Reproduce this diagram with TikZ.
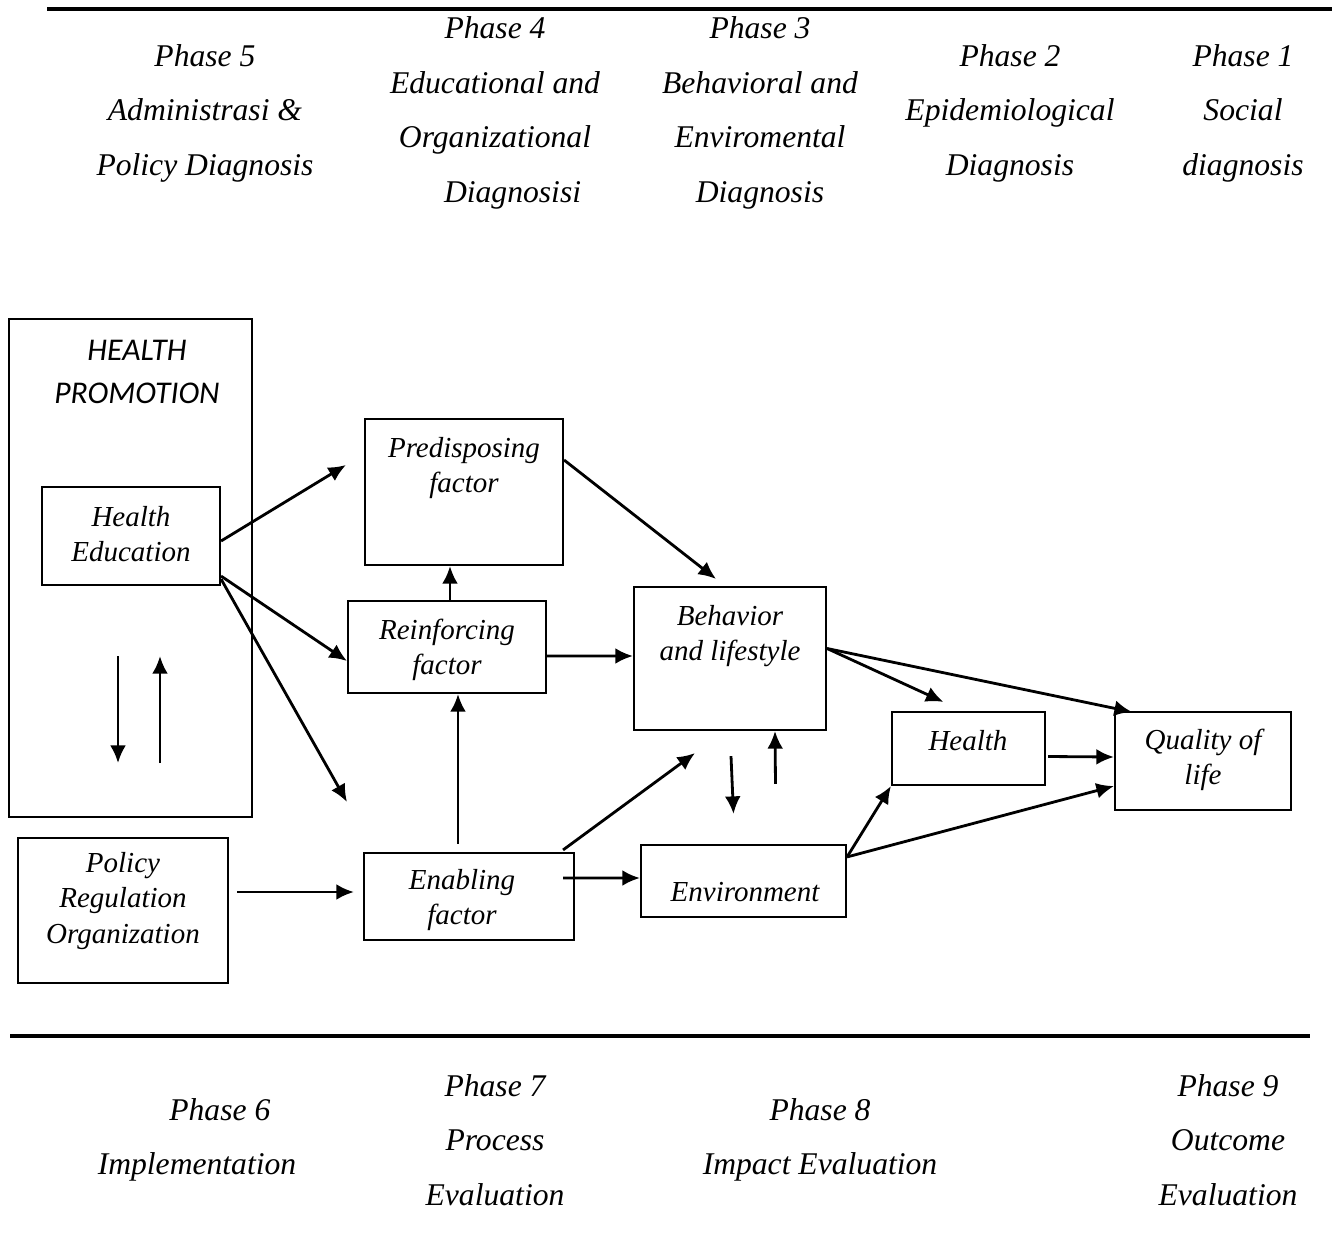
\documentclass[tikz,border=0pt]{standalone}
\usepackage{fontspec}
\setmainfont{Liberation Serif}
\newfontfamily\calibrifont{Carlito}
\usetikzlibrary{arrows.meta, calc, fit, positioning}

\begin{document}
\begin{tikzpicture}[
    x=0.02cm, y=-0.02cm,
    box/.style={rectangle, draw=black, line width=1.2pt, inner sep=0pt},
    lbl/.style={align=center, font=\fontsize{16.5}{20}\selectfont\itshape, inner sep=0pt},
    phase/.style={align=center, font=\fontsize{18}{31}\selectfont\itshape, inner sep=0pt},
    arr/.style={-{Latex[length=10pt,width=9pt]}, line width=1.6pt},
    rule/.style={line width=2.2pt},
]
\useasboundingbox (0,0) rectangle (1332,1254);

% Rules
\draw[rule] (47,9) -- (1332,9);
\draw[rule] (10,1036) -- (1310,1036);

% Diagnosis phases
\node[phase] (ph5) at (205,113) {Phase 5\\Administrasi \&\\Policy Diagnosis};
\node[phase] (ph4) at (495,113) {Phase 4\\Educational and\\Organizational\\\hspace*{20pt}Diagnosisi};
\node[phase] (ph3) at (760,113) {Phase 3\\Behavioral and\\Enviromental\\Diagnosis};
\node[phase] (ph2) at (1010,113) {Phase 2\\Epidemiological\\Diagnosis};
\node[phase] (ph1) at (1243,113) {Phase 1\\Social\\diagnosis};

% Evaluation phases
\node[phase] (ph6) at (197,1140) {\hspace*{26pt}Phase 6\\Implementation};
\node[phase] (ph7) at (495,1140) {Phase 7\\Process\\Evaluation};
\node[phase] (ph8) at (820,1140) {Phase 8\\Impact Evaluation};
\node[phase] (ph9) at (1228,1140) {Phase 9\\Outcome\\Evaluation};

% Health promotion
\node[box, fit={(9,319) (252,817)}] (hp) {};
\node[align=center, inner sep=0pt, font=\fontsize{18}{24}\selectfont\calibrifont\itshape] (hptxt) at (137,372) {HEALTH\\PROMOTION};
\node[box, fit={(42,487) (220,585)}] (he) {};
\node[lbl] (hetxt) at (131,534) {Health\\Education};
\node[box, fit={(18,838) (228,983)}] (pol) {};
\node[lbl] (poltxt) at (123,901) {Policy\\Regulation\\Organization};

% Factors
\node[box, fit={(365,419) (563,565)}] (pre) {};
\node[lbl] (pretxt) at (464,468) {Predisposing\\factor};
\node[box, fit={(348,601) (546,693)}] (rei) {};
\node[lbl] (reitxt) at (447,650) {Reinforcing\\factor};
\node[box, fit={(364,853) (574,940)}] (ena) {};
\node[lbl] (enatxt) at (462,900) {Enabling\\factor};

% Outcomes
\node[box, fit={(634,587) (826,730)}] (beh) {};
\node[lbl] (behtxt) at (730,636) {Behavior\\and lifestyle};
\node[box, fit={(641,845) (846,917)}] (env) {};
\node[lbl] (envtxt) at (745,892) {Environment};
\node[box, fit={(892,712) (1045,785)}] (hea) {};
\node[lbl] (heatxt) at (968,741) {Health};
\node[box, fit={(1115,712) (1291,810)}] (qol) {};
\node[lbl] (qoltxt) at (1203,760) {Quality of\\life};

% Arrows inside health promotion
\draw[arr] ($(hp.south)+(-12.5,-162)$) -- ($(hp.south)+(-12.5,-55)$);
\draw[arr] ($(hp.south)+(29.5,-55)$) -- ($(hp.south)+(29.5,-162)$);

% Arrows from health education
\draw[arr] ($(he.east)+(0,5)$) -- ($(pre.west)+(-18,-27)$);
\draw[arr] ($(he.south east)+(0,-10)$) -- ($(rei.west)+(0,14)$);
\draw[arr] ($(he.south east)+(0,-7)$) -- ($(ena.north west)+(-16,-50)$);
\draw[arr] ($(pol.east)+(8,-18.5)$) -- ($(ena.west)+(-9,-4.5)$);

% Arrows between factors
\draw[arr] ($(rei.north)+(3,0)$) -- ($(pre.south)+(-14,0)$);
\draw[arr] ($(ena.north)+(-11,-8)$) -- ($(rei.south)+(11,0)$);
\draw[arr] ($(pre.east)+(0,-32)$) -- ($(beh.north)+(-14,-7)$);
\draw[arr] ($(rei.east)+(0,9)$) -- ($(beh.west)+(0,-2.5)$);
\draw[arr] ($(ena.north east)+(-12,-2)$) -- ($(beh.south)+(-35,22)$);
\draw[arr] ($(ena.east)+(-12,-18.5)$) -- ($(env.west)+(0,-3)$);

% Behavior and environment
\draw[arr] ($(beh.south)+(1,25)$) -- ($(env.north)+(-10,-30)$);
\draw[arr] ($(env.north)+(32,-60)$) -- ($(beh.south)+(45,0)$);

% Arrows to health and quality of life
\draw[arr] ($(beh.east)+(0,-10)$) -- ($(hea.north)+(-25,-9)$);
\draw[arr] ($(beh.east)+(0,-10)$) -- ($(qol.north west)+(18,1)$);
\draw[arr] ($(hea.east)+(2,8)$) -- ($(qol.west)+(0,-4)$);
\draw[arr] ($(env.north east)+(0,13)$) -- (hea.south west);
\draw[arr] ($(env.north east)+(0,13)$) -- ($(qol.south west)+(0,-25)$);

\end{tikzpicture}
\end{document}
